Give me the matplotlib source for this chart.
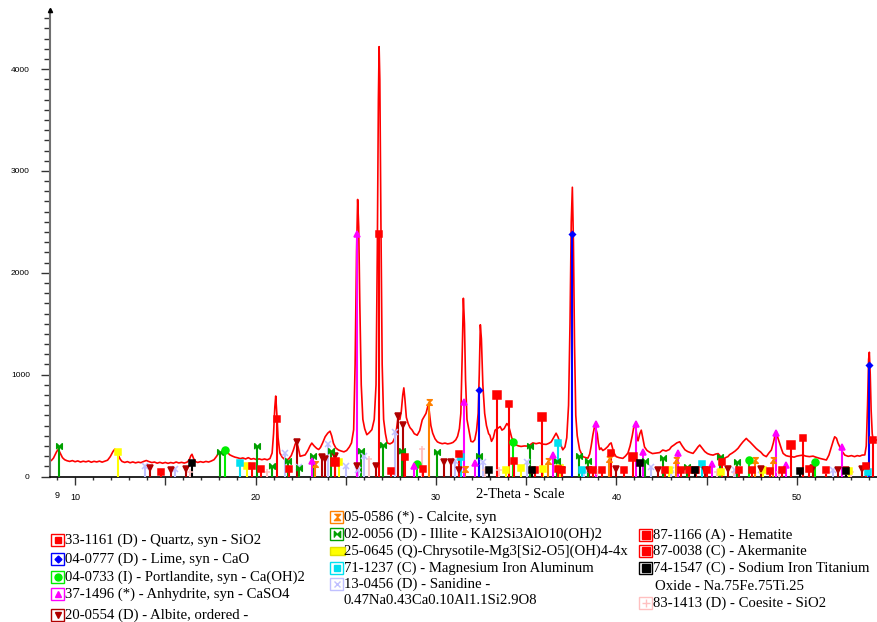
import matplotlib
matplotlib.use('Agg')

import matplotlib.pyplot as plt
from matplotlib.patches import Rectangle
from matplotlib.lines import Line2D
from matplotlib.ticker import MultipleLocator, FixedLocator

# measured pattern (2-theta in degrees, counts)
two_theta = [8.62, 8.70, 8.80, 8.90, 8.98, 9.05, 9.12, 9.20, 9.30, 9.42, 9.55, 9.70, 9.85, 10.0, 10.15, 10.3,
             10.45, 10.6, 10.75, 10.9, 11.05, 11.2, 11.35, 11.5, 11.65, 11.8, 11.95, 12.1, 12.2, 12.3, 12.4,
             12.5, 12.6, 12.75, 12.9, 13.05, 13.2, 13.35, 13.5, 13.65, 13.8, 13.95, 14.1, 14.25, 14.4, 14.55,
             14.7, 14.85, 15.0, 15.15, 15.3, 15.45, 15.6, 15.75, 15.9, 16.05, 16.2, 16.32, 16.42, 16.48, 16.56,
             16.66, 16.8, 16.95, 17.1, 17.25, 17.4, 17.55, 17.7, 17.85, 17.97, 18.08, 18.2, 18.32, 18.44, 18.58,
             18.72, 18.86, 19.0, 19.15, 19.3, 19.45, 19.6, 19.75, 19.9, 20.05, 20.2, 20.35, 20.5, 20.65, 20.8,
             20.92, 21.0, 21.07, 21.12, 21.18, 21.25, 21.35, 21.48, 21.6, 21.73, 21.85, 21.98, 22.1, 22.2, 22.28,
             22.36, 22.47, 22.6, 22.75, 22.9, 23.02, 23.12, 23.25, 23.39, 23.5, 23.6, 23.72, 23.86, 24.0, 24.13,
             24.22, 24.32, 24.45, 24.6, 24.75, 24.9, 25.05, 25.2, 25.32, 25.44, 25.52, 25.6, 25.66, 25.72, 25.78,
             25.86, 25.95, 26.05, 26.17, 26.3, 26.45, 26.58, 26.68, 26.75, 26.81, 26.85, 26.89, 26.95, 27.02,
             27.1, 27.2, 27.3, 27.45, 27.6, 27.72, 27.82, 27.9, 28.0, 28.08, 28.16, 28.22, 28.28, 28.36, 28.46,
             28.56, 28.68, 28.8, 28.96, 29.1, 29.24, 29.35, 29.45, 29.55, 29.63, 29.72, 29.82, 29.95, 30.08,
             30.2, 30.35, 30.5, 30.65, 30.82, 30.95, 31.1, 31.2, 31.3, 31.38, 31.45, 31.52, 31.58, 31.64, 31.72,
             31.84, 31.94, 32.05, 32.15, 32.25, 32.34, 32.4, 32.46, 32.52, 32.6, 32.7, 32.8, 32.92, 32.99, 33.08,
             33.18, 33.28, 33.4, 33.56, 33.66, 33.78, 33.93, 34.02, 34.1, 34.2, 34.3, 34.44, 34.58, 34.72, 34.9,
             35.1, 35.25, 35.37, 35.55, 35.74, 35.9, 36.11, 36.25, 36.39, 36.52, 36.66, 36.76, 36.88, 37.03,
             37.15, 37.25, 37.35, 37.43, 37.5, 37.56, 37.62, 37.68, 37.75, 37.83, 37.96, 38.14, 38.3, 38.42,
             38.52, 38.6, 38.7, 38.79, 38.86, 38.94, 39.0, 39.07, 39.15, 39.25, 39.38, 39.53, 39.63, 39.71, 39.8,
             39.9, 39.99, 40.15, 40.36, 40.5, 40.64, 40.76, 40.88, 40.96, 41.01, 41.08, 41.15, 41.2, 41.3, 41.38,
             41.46, 41.56, 41.7, 41.83, 42.0, 42.2, 42.4, 42.57, 42.75, 42.94, 43.05, 43.2, 43.35, 43.51, 43.65,
             43.8, 43.95, 44.1, 44.25, 44.4, 44.52, 44.62, 44.75, 44.9, 45.05, 45.2, 45.36, 45.5, 45.64, 45.8,
             45.91, 46.05, 46.18, 46.28, 46.42, 46.58, 46.74, 46.88, 47.02, 47.12, 47.2, 47.3, 47.4, 47.48, 47.62,
             47.75, 47.85, 48.0, 48.15, 48.31, 48.45, 48.59, 48.7, 48.8, 48.87, 48.95, 49.05, 49.15, 49.24, 49.4,
             49.55, 49.7, 49.85, 50.0, 50.15, 50.34, 50.5, 50.7, 50.9, 51.05, 51.27, 51.45, 51.64, 51.78, 51.92,
             52.02, 52.1, 52.2, 52.28, 52.38, 52.5, 52.66, 52.85, 53.03, 53.2, 53.35, 53.49, 53.62, 53.77, 53.85,
             53.92, 53.98, 54.02, 54.07, 54.12, 54.18, 54.23, 54.32, 54.42, 54.5]
counts = [150, 160, 180, 215, 245, 262, 250, 220, 185, 165, 155, 148, 156, 145, 153, 142,
          150, 144, 152, 140, 149, 143, 151, 141, 150, 160, 195, 245, 268, 248, 210,
          170, 148, 138, 146, 135, 143, 134, 141, 136, 148, 157, 146, 137, 142, 131,
          139, 130, 138, 129, 137, 131, 142, 133, 139, 132, 140, 160, 205, 218, 180,
          147, 138, 146, 139, 148, 142, 152, 165, 200, 240, 232, 225, 252, 236, 212,
          200, 190, 184, 176, 182, 172, 185, 170, 176, 166, 173, 165, 172, 164, 176,
          230, 420, 680, 790, 620, 380, 230, 190, 170, 162, 175, 205, 260, 318, 342,
          290, 198, 205, 212, 255, 300, 328, 300, 276, 265, 285, 330, 390, 425, 445,
          400, 325, 280, 260, 250, 242, 255, 290, 330, 460, 1100, 2200, 2720, 2450, 1700,
          900, 560, 470, 410, 430, 460, 560, 900, 2200, 3700, 4220, 3900, 2500, 1100,
          560, 420, 330, 320, 335, 380, 470, 585, 560, 640, 800, 870, 760, 580, 520,
          480, 456, 420, 405, 450, 555, 590, 620, 690, 640, 500, 425, 370, 340,
          330, 322, 328, 320, 326, 335, 360, 395, 470, 620, 1150, 1750, 1500, 950, 560,
          440, 345, 340, 360, 450, 620, 1000, 1490, 1350, 900, 620, 500, 420, 405, 345,
          380, 455, 470, 490, 455, 470, 520, 500, 450, 380, 350, 310, 300, 295, 300,
          298, 315, 330, 322, 330, 318, 315, 325, 340, 380, 425, 390, 330, 262,
          290, 380, 700, 1500, 2500, 2840, 2300, 1300, 600, 400, 265, 195, 185, 180,
          220, 295, 410, 490, 470, 420, 330, 265, 280, 255, 270, 295, 320, 330, 270,
          220, 195, 185, 178, 200, 230, 300, 400, 480, 505, 470, 380, 350, 420, 455,
          380, 290, 255, 240, 225, 230, 235, 260, 250, 265, 292, 310, 330, 341, 300,
          262, 245, 235, 227, 260, 290, 309, 280, 245, 225, 215, 210, 220, 225, 190,
          171, 185, 195, 215, 230, 250, 276, 310, 341, 360, 374, 355, 340, 325, 300,
          275, 260, 240, 210, 195, 230, 260, 330, 410, 440, 380, 325, 270, 227, 205,
          198, 195, 190, 200, 205, 210, 200, 195, 200, 190, 178, 170, 162, 210, 292,
          350, 390, 375, 330, 292, 250, 210, 198, 205, 195, 205, 200, 210, 212, 300,
          700, 1150, 1220, 1000, 650, 420, 358, 352, 360, 350]

# reference lines of each phase: positions (2-theta) and heights
quartz_pos = [21.17, 26.85, 36.75, 39.7, 40.45, 42.7, 45.85, 50.35, 54.23]
quartz_int = [560, 2380, 70, 230, 60, 60, 140, 375, 355]
lime_pos = [32.4, 37.55, 54.0]
lime_int = [850, 2380, 1090]
portlandite_pos = [18.31, 28.94, 34.28, 47.36, 51.0]
portlandite_int = [260, 125, 340, 165, 140]
anhydrite_pos = [23.15, 25.64, 28.8, 31.55, 32.16, 36.5, 38.85, 41.06, 41.5, 43.4, 45.3, 48.87, 49.4, 52.48]
anhydrite_int = [155, 2380, 100, 735, 130, 215, 520, 520, 240, 235, 120, 425, 115, 285]
albite_pos = [14.17, 15.29, 16.14, 22.28, 23.7, 23.85, 24.4, 25.6, 26.7, 27.9, 28.15, 30.45, 30.82, 31.3,
              37.0, 38.5, 40.0, 42.3, 44.9, 46.2, 48.0, 50.9, 52.3, 52.75, 53.6]
albite_int = [85, 60, 70, 340, 190, 170, 205, 100, 100, 590, 510, 140, 140, 60,
              65, 60, 70, 60, 65, 70, 75, 80, 60, 60, 70]
calcite_pos = [23.3, 29.6, 31.6, 36.2, 39.6, 43.33, 47.67, 48.69]
calcite_int = [125, 730, 70, 155, 170, 160, 165, 165]
illite_pos = [9.13, 18.03, 20.06, 20.93, 21.8, 22.4, 23.2, 24.2, 25.84, 27.04, 28.1, 30.08, 32.4, 35.2,
              36.7, 37.94, 38.4, 41.6, 42.6, 43.9, 45.73, 46.7]
illite_int = [300, 245, 300, 100, 150, 80, 205, 255, 255, 305, 255, 240, 200, 300,
              155, 200, 150, 155, 185, 95, 190, 140]
chrysotile_pos = [12.4, 19.51, 24.65, 33.9, 34.7, 35.95, 36.85, 42.9, 45.8, 48.1, 52.9]
chrysotile_int = [240, 100, 145, 65, 85, 70, 80, 60, 45, 60, 50]
mgfeal_pos = [19.14, 31.4, 36.78, 38.1, 44.72, 53.95]
mgfeal_int = [130, 190, 330, 60, 125, 45]
sanidine_pos = [13.88, 15.55, 21.63, 22.4, 24.0, 25.02, 25.7, 26.0, 27.73, 31.04, 32.6, 35.06, 36.9,
                38.2, 41.9, 43.0, 46.6, 48.0, 49.2, 52.0]
sanidine_int = [100, 75, 227, 90, 320, 100, 60, 205, 440, 150, 145, 140, 90,
                60, 90, 60, 60, 60, 60, 60]
hematite_pos = [24.42, 33.38, 35.88, 40.93, 49.67]
hematite_int = [140, 800, 580, 190, 305]
akermanite_pos = [14.74, 19.79, 20.3, 21.87, 27.5, 28.3, 29.3, 31.28, 34.05, 34.3, 35.5, 37.0, 38.7,
                  39.2, 43.6, 44.0, 44.4, 45.0, 46.8, 47.5, 48.5, 49.2, 50.7, 51.6, 53.86]
akermanite_int = [45, 100, 75, 70, 50, 195, 75, 225, 710, 150, 60, 60, 60,
                  60, 60, 60, 60, 60, 60, 60, 50, 60, 75, 60, 100]
nafeti_pos = [16.46, 32.95, 35.3, 41.3, 44.35, 50.17, 52.7]
nafeti_int = [130, 65, 60, 130, 60, 50, 55]
coesite_pos = [16.38, 20.63, 26.3, 29.2, 32.7, 33.5, 38.9, 43.0, 45.6, 46.5, 49.0, 51.6, 53.0]
coesite_int = [45, 45, 175, 270, 60, 65, 45, 50, 45, 45, 45, 50, 45]

# custom marker shapes
bowtie = [(-1, -1), (-1, 1), (0, 0), (1, 1), (1, -1), (0, 0)]
hourglass = [(-1, 1), (1, 1), (0, 0), (1, -1), (-1, -1), (0, 0)]

# name, positions, heights, colour, marker, marker size
phases = [
    ("83-1413 (D) - Coesite - SiO2", coesite_pos, coesite_int, '#ffc0c0', '+', 5),
    ("13-0456 (D) - Sanidine -", sanidine_pos, sanidine_int, '#c0c0ff', 'x', 4),
    ("25-0645 (Q)-Chrysotile-Mg3[Si2-O5](OH)4-4x", chrysotile_pos, chrysotile_int, '#ffff00', 's', 5),
    ("71-1237 (C) - Magnesium Iron Aluminum", mgfeal_pos, mgfeal_int, '#00e0f0', 's', 5),
    ("20-0554 (D) - Albite, ordered -", albite_pos, albite_int, '#b00000', 'v', 4.5),
    ("02-0056 (D) - Illite - KAl2Si3AlO10(OH)2", illite_pos, illite_int, '#00a000', bowtie, 4),
    ("05-0586 (*) - Calcite, syn", calcite_pos, calcite_int, '#ff8000', hourglass, 4),
    ("04-0733 (I) - Portlandite, syn - Ca(OH)2", portlandite_pos, portlandite_int, '#00ee00', 'o', 5),
    ("37-1496 (*) - Anhydrite, syn - CaSO4", anhydrite_pos, anhydrite_int, '#ff00ff', '^', 4.5),
    ("87-0038 (C) - Akermanite", akermanite_pos, akermanite_int, '#ff0000', 's', 5),
    ("87-1166 (A) - Hematite", hematite_pos, hematite_int, '#ff0000', 's', 5.5),
    ("74-1547 (C) - Sodium Iron Titanium", nafeti_pos, nafeti_int, '#000000', 's', 5),
    ("33-1161 (D) - Quartz, syn - SiO2", quartz_pos, quartz_int, '#ff0000', 's', 4),
    ("04-0777 (D) - Lime, syn - CaO", lime_pos, lime_int, '#0000ff', 'D', 3),
]

W, H = 878, 622
fig = plt.figure(figsize=(W / 100, H / 100), dpi=100)
ax = fig.add_axes([50 / W, 1 - 476.5 / H, 828 / W, 466.5 / H])

ax.plot(two_theta, counts, color='#ff0000', lw=1.2, zorder=2)

for name, pos, inten, col, mk, ms in phases:
    ax.vlines(pos, 0, inten, colors=col, lw=1.5, zorder=3)
    ax.plot(pos, inten, ls='none', marker=mk, ms=ms, mfc=col, mec=col, mew=1.1, zorder=4)

ax.set_xlim(8.61, 54.5)
ax.set_ylim(0, 4580)

# axes: only left and bottom lines
for s in ['top', 'right']:
    ax.spines[s].set_visible(False)
ax.spines['left'].set_color('#707070')
ax.spines['left'].set_linewidth(1.5)
ax.spines['bottom'].set_color('black')
ax.spines['bottom'].set_linewidth(1.2)
ax.plot([8.61], [4580], marker='^', ms=3, color='black', clip_on=False, zorder=5)

ax.yaxis.set_major_locator(FixedLocator([0, 1000, 2000, 3000, 4000]))
ax.yaxis.set_minor_locator(MultipleLocator(100))
ax.tick_params(axis='y', which='major', length=6.5, width=1, color='#333333', pad=8,
               labelsize=6, labelfontfamily='Liberation Sans')
ax.tick_params(axis='y', which='minor', length=4.3, width=1, color='#333333')

ax.xaxis.set_major_locator(FixedLocator([10, 15, 20, 25, 30, 35, 40, 45, 50]))
ax.set_xticklabels(['10', '', '20', '', '30', '', '40', '', '50'])
ax.xaxis.set_minor_locator(MultipleLocator(1))
ax.tick_params(axis='x', which='major', length=6, width=1, color='#333333', pad=6,
               labelsize=6.5, labelfontfamily='Liberation Sans')
ax.tick_params(axis='x', which='minor', length=2.5, width=1, color='#333333')
fig.text(57 / W, 1 - 496 / H, '9', fontsize=6.5, family='Liberation Sans', ha='center', va='center')

fig.text(520 / W, 1 - 495 / H, '2-Theta - Scale', fontsize=10.5, family='Liberation Serif',
         ha='center', va='center')


# legend entries: small coloured box with the phase marker, then the card text
def legend_item(x, y, label, col, mk, ms, wide=False):
    fx, fy = x / W, 1 - y / H
    if wide:
        fig.add_artist(Rectangle(((x - 7) / W, 1 - (y + 4) / H), 15 / W, 8 / H,
                                 transform=fig.transFigure, facecolor=col, edgecolor='#e0e000', lw=1))
    else:
        fig.add_artist(Rectangle(((x - 6.5) / W, 1 - (y + 6) / H), 13 / W, 12 / H,
                                 transform=fig.transFigure, fill=False, edgecolor=col, lw=1))
        fig.add_artist(Line2D([fx], [fy], marker=mk, ms=ms, mfc=col, mec=col, mew=1,
                              transform=fig.transFigure))
    fig.text((x + 7.5) / W, fy, label, fontsize=10.6, family='Liberation Serif', va='center')


style = {name: (col, mk, ms) for name, pos, inten, col, mk, ms in phases}

col1 = ["33-1161 (D) - Quartz, syn - SiO2", "04-0777 (D) - Lime, syn - CaO",
        "04-0733 (I) - Portlandite, syn - Ca(OH)2", "37-1496 (*) - Anhydrite, syn - CaSO4",
        "20-0554 (D) - Albite, ordered -"]
col2 = ["05-0586 (*) - Calcite, syn", "02-0056 (D) - Illite - KAl2Si3AlO10(OH)2",
        "25-0645 (Q)-Chrysotile-Mg3[Si2-O5](OH)4-4x", "71-1237 (C) - Magnesium Iron Aluminum",
        "13-0456 (D) - Sanidine -"]
col3 = ["87-1166 (A) - Hematite", "87-0038 (C) - Akermanite",
        "74-1547 (C) - Sodium Iron Titanium", "83-1413 (D) - Coesite - SiO2"]

for name, y in zip(col1, [540, 559, 577, 594, 615]):
    c, m, s = style[name]
    legend_item(58, y, name, c, m, min(s + 0.5, 5))
for name, y in zip(col2, [517, 534, 551, 568, 584]):
    c, m, s = style[name]
    legend_item(337, y, name, c, m, min(s + 0.5, 5), wide=name.startswith('25-0645'))
for name, y in zip(col3, [535, 551, 568, 603]):
    c, m, s = style[name]
    legend_item(646, y, name, c, m, 6)

fig.text(344 / W, 1 - 600 / H, '0.47Na0.43Ca0.10Al1.1Si2.9O8', fontsize=10.6,
         family='Liberation Serif', va='center')
fig.text(655 / W, 1 - 586 / H, 'Oxide - Na.75Fe.75Ti.25', fontsize=10.6,
         family='Liberation Serif', va='center')

plt.savefig('out.png', dpi=100)
